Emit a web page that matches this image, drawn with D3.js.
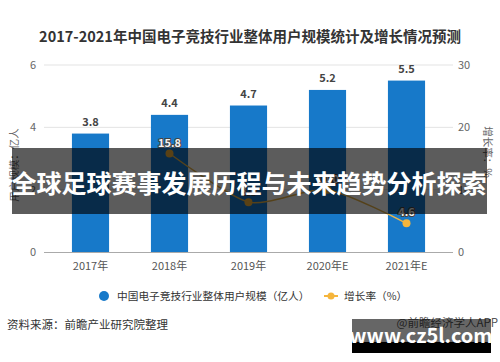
<!DOCTYPE html>
<html><head><meta charset="utf-8">
<script src="https://cdn.jsdelivr.net/npm/d3@7/dist/d3.min.js"></script>
<style>
html,body{margin:0;padding:0;background:#fff;}
svg{display:block;font-family:"Noto Sans CJK SC","Noto Sans",sans-serif;}
</style></head>
<body><svg id="c" width="500" height="362"></svg>
<script>
const categories = ["2017年","2018年","2019年","2020年E","2021年E"];
const users = [3.8, 4.4, 4.7, 5.2, 5.5];
const growth = [null, 15.8, 8.0, 10.0, 4.6];
const leftTicks = [0, 2, 4, 6];
const rightTicks = [0, 10, 20, 30];
const title = "2017-2021年中国电子竞技行业整体用户规模统计及增长情况预测";
const bannerText = "全球足球赛事发展历程与未来趋势分析探索";

const svg = d3.select("#c");
const L = 51, R = 446, T = 65, B = 252;
const x = d3.scaleBand().domain(categories).range([L, R]).paddingInner(0.53).paddingOuter(0.265);
const yL = d3.scaleLinear().domain([0, 6]).range([B, T]);
const yR = d3.scaleLinear().domain([0, 30]).range([B, T]);

// title
svg.append("text").attr("x", 250).attr("y", 42).attr("text-anchor", "middle")
  .attr("font-size", 14.5).attr("font-weight", "bold").attr("fill", "#333").text(title);

// grid
svg.append("g").selectAll("line").data(leftTicks.filter(d => d > 0)).join("line")
  .attr("x1", 44).attr("x2", 453).attr("y1", d => yL(d)).attr("y2", d => yL(d))
  .attr("stroke", "#e3e3e3").attr("stroke-width", 1);
svg.append("line").attr("x1", 44).attr("x2", 453).attr("y1", B + 0.5).attr("y2", B + 0.5)
  .attr("stroke", "#aaa");

// left axis labels
svg.append("g").selectAll("text").data(leftTicks).join("text")
  .attr("x", 36).attr("y", d => yL(d) + 4).attr("text-anchor", "end")
  .attr("font-size", 11).attr("fill", "#666").text(d => d);
// right axis labels
svg.append("g").selectAll("text").data(rightTicks).join("text")
  .attr("x", 458).attr("y", d => yR(d) + 4).attr("text-anchor", "start")
  .attr("font-size", 11).attr("fill", "#666").text(d => d);

// axis titles
svg.append("text").attr("transform", "translate(18,165) rotate(-90)").attr("text-anchor", "middle")
  .attr("font-size", 10.5).attr("fill", "#666").text("用户规模：亿人");
svg.append("text").attr("transform", "translate(484,152) rotate(90)").attr("text-anchor", "middle")
  .attr("font-size", 10.5).attr("fill", "#666").text("增长率：%");

// bars
svg.append("g").selectAll("rect").data(users).join("rect")
  .attr("x", (d, i) => x(categories[i])).attr("width", x.bandwidth())
  .attr("y", d => yL(d)).attr("height", d => B - yL(d)).attr("fill", "#1779c9");
svg.append("g").selectAll("text").data(users).join("text")
  .attr("x", (d, i) => x(categories[i]) + x.bandwidth() / 2).attr("y", d => yL(d) - 8)
  .attr("text-anchor", "middle").attr("font-size", 11).attr("font-weight", "bold").attr("fill", "#444")
  .text(d => d.toFixed(1));

// x labels
svg.append("g").selectAll("text").data(categories).join("text")
  .attr("x", d => x(d) + x.bandwidth() / 2).attr("y", 270).attr("text-anchor", "middle")
  .attr("font-size", 11).attr("fill", "#555").text(d => d);

// growth line
const pts = growth.map((g, i) => ({c: categories[i], g})).filter(d => d.g != null);
const cx = d => x(d.c) + x.bandwidth() / 2;
svg.append("path").datum(pts)
  .attr("d", d3.line().x(cx).y(d => yR(d.g)).curve(d3.curveCardinal.tension(0.3)))
  .attr("fill", "none").attr("stroke", "#e9b44a").attr("stroke-width", 1.5);
svg.append("g").selectAll("circle").data(pts).join("circle")
  .attr("cx", cx).attr("cy", d => yR(d.g)).attr("r", 4).attr("fill", "#f5b53c");
svg.append("g").selectAll("text").data(pts).join("text")
  .attr("x", cx).attr("y", d => yR(d.g) - 7).attr("text-anchor", "middle")
  .attr("font-size", 11).attr("font-weight", "bold")
  .attr("fill", "#f2f2f2").attr("stroke", "#444").attr("stroke-width", 2).attr("paint-order", "stroke")
  .text(d => d.g.toFixed(1));

// legend
svg.append("circle").attr("cx", 104).attr("cy", 296).attr("r", 5).attr("fill", "#1779c9");
svg.append("text").attr("x", 117).attr("y", 300).attr("font-size", 10.7).attr("fill", "#333")
  .text("中国电子竞技行业整体用户规模（亿人）");
svg.append("line").attr("x1", 324).attr("x2", 338).attr("y1", 296).attr("y2", 296)
  .attr("stroke", "#f5b53c").attr("stroke-width", 2);
svg.append("circle").attr("cx", 331).attr("cy", 296).attr("r", 3.5).attr("fill", "#f5b53c");
svg.append("text").attr("x", 344).attr("y", 300).attr("font-size", 10.7).attr("fill", "#333")
  .text("增长率（%）");

// source
svg.append("text").attr("x", 7).attr("y", 329).attr("font-size", 11.5).attr("fill", "#333")
  .text("资料来源：前瞻产业研究院整理");
svg.append("text").attr("x", 498).attr("y", 327).attr("text-anchor", "end").attr("font-size", 11.5)
  .attr("fill", "#555").text("@前瞻经济学人APP");

// overlay banner
svg.append("rect").attr("x", 12).attr("y", 148).attr("width", 475).attr("height", 66)
  .attr("fill", "#000").attr("fill-opacity", 0.64);
svg.append("text").attr("x", 249).attr("y", 193).attr("text-anchor", "middle")
  .attr("font-size", 25).attr("font-weight", "bold").attr("fill", "#fff").text(bannerText);

// bottom-right banner
svg.append("rect").attr("x", 352).attr("y", 319).attr("width", 139).attr("height", 23)
  .attr("fill", "#000").attr("fill-opacity", 0.6);
svg.append("rect").attr("x", 352).attr("y", 342).attr("width", 139).attr("height", 11).attr("fill", "#000");
svg.append("text").attr("x", 421).attr("y", 343).attr("text-anchor", "middle")
  .attr("font-size", 20).attr("font-weight", "bold").attr("fill", "#fff").text("www.cz5l.com");
</script></body></html>
